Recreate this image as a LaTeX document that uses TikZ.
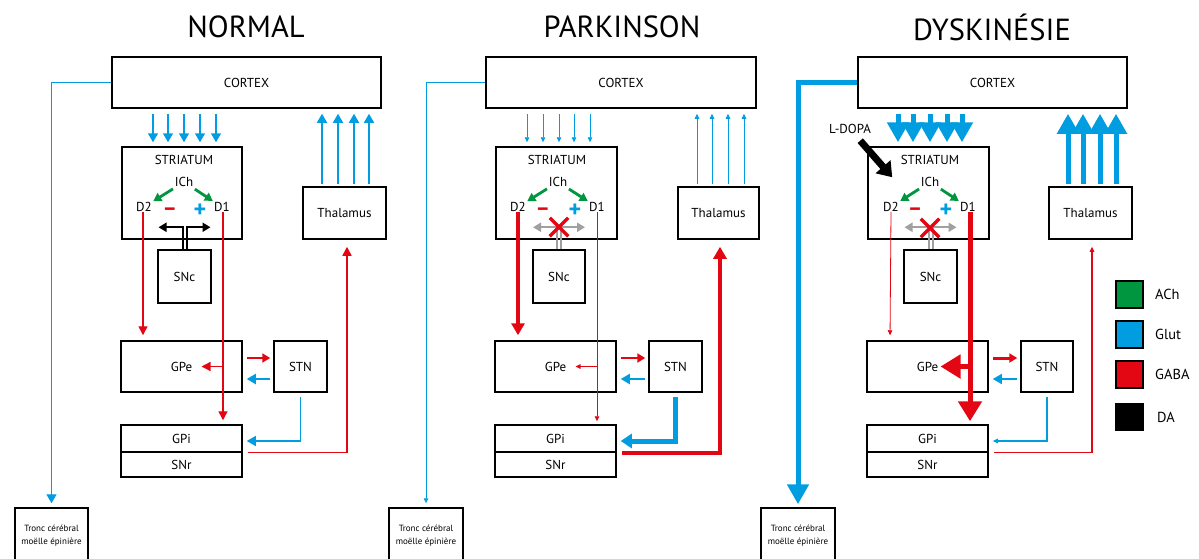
\documentclass[tikz,border=0pt]{standalone}
\usepackage{fontspec}
\setmainfont{PT Sans}
\usetikzlibrary{arrows.meta,shapes.misc}
\definecolor{blu}{RGB}{0,158,224}
\definecolor{rd}{RGB}{227,6,19}
\definecolor{grn}{RGB}{0,150,64}
\definecolor{gry}{RGB}{160,160,160}
\begin{document}
\begin{tikzpicture}[x=1pt,y=-1pt,
  bx/.style={draw=black, line width=1.5pt, inner sep=0pt, font=\fontsize{13}{15}\selectfont},
  lbl/.style={inner sep=0pt, font=\fontsize{13}{15}\selectfont},
  sml/.style={inner sep=0pt, align=center, font=\fontsize{9}{12.5}\selectfont},
  ttl/.style={inner sep=0pt, font=\fontsize{30.5}{32}\selectfont},
  leg/.style={inner sep=0pt, anchor=west, font=\fontsize{14.5}{16}\selectfont},
  legsq/.style={draw=black, line width=1.5pt, minimum size=27pt, inner sep=0pt},
  minus/.style={inner sep=0pt, text=rd, font=\bfseries\fontsize{22}{22}\selectfont},
  plus/.style={inner sep=0pt, text=blu, font=\bfseries\fontsize{24}{24}\selectfont},
  xx/.style={cross out, draw=rd, line width=3.5pt, minimum width=15pt, minimum height=15pt, inner sep=0pt},
  % blue
  glt/.style={blu, line width=0.8pt, -{Triangle[length=5pt,width=4.5pt]}},
  gln/.style={blu, line width=1.6pt, -{Triangle[length=9pt,width=10pt]}},
  glk/.style={blu, line width=5pt, -{Triangle[length=11pt,width=14pt]}},
  glh/.style={blu, line width=5pt, -{Triangle[length=20pt,width=21pt]}},
  % red
  rdt/.style={rd, line width=0.8pt, -{Triangle[length=5pt,width=4.5pt]}},
  rdn/.style={rd, line width=1.4pt, -{Triangle[length=9pt,width=9pt]}},
  rdm/.style={rd, line width=2.2pt, -{Triangle[length=8pt,width=9pt]}},
  rdk/.style={rd, line width=4.5pt, -{Triangle[length=12pt,width=13pt]}},
  rdh/.style={rd, line width=5pt, -{Triangle[length=20pt,width=23pt]}},
  gnar/.style={grn, line width=2.8pt, -{Triangle[length=8pt,width=9pt]}},
  daar/.style={line width=2pt, -{Triangle[length=8pt,width=9pt]}},
  ldopa/.style={black, line width=7pt, -{Triangle[length=14pt,width=19pt]}}
]
\useasboundingbox (0,0) rectangle (1199,558);
\clip (0,0) rectangle (1199,558);

%================ NORMAL =================
\node[ttl] (tN) at (246,27) {NORMAL};
\node[bx, minimum width=269pt, minimum height=51pt] (cortexN) at (246.5,82.5) {CORTEX};
\node[bx, minimum width=120pt, minimum height=92pt] (striN) at (182,193) {};
\node[lbl] (striNt) at (184,160) {STRIATUM};
\node[lbl] (ichN) at (184,182) {ICh};
\node[lbl] (d2N) at (144,207) {D2};
\node[lbl] (d1N) at (222,207) {D1};
\node[minus] (mN) at (170,212) {–};
\node[plus] (pN) at (200,211) {+};
\node[bx, minimum width=83pt, minimum height=52pt] (thalN) at (344.5,213) {Thalamus};
\node[bx, minimum width=53pt, minimum height=53pt] (sncN) at (184.5,276.5) {SNc};
\node[bx, minimum width=121pt, minimum height=51pt] (gpeN) at (181.5,366.5) {GPe};
\node[bx, minimum width=53pt, minimum height=51pt] (stnN) at (300.5,366.5) {STN};
\node[bx, minimum width=121pt, minimum height=27pt] (gpiN) at (181.5,438.5) {GPi};
\node[bx, minimum width=121pt, minimum height=25pt] (snrN) at (181.5,464.5) {SNr};
\node[bx, minimum width=73pt, minimum height=60pt] (troncN) at (51.5,538) {};
\node[sml] (troncNt) at (51.5,535.5) {Tronc cérébral\\moëlle épinière};

\foreach \x in {153,168,184,200,216}
  \draw[gln, shorten <=5pt, shorten >=4pt] (cortexN.south -| \x,0) -- (striN.north -| \x,0);
\foreach \x in {322,338,354,369}
  \draw[gln, shorten <=2pt, shorten >=5pt] (thalN.north -| \x,0) -- (cortexN.south -| \x,0);
\draw[gnar, shorten <=13pt, shorten >=11pt] (ichN.center) -- (d2N.center);
\draw[gnar, shorten <=13pt, shorten >=11pt] (ichN.center) -- (d1N.center);
\draw[daar] ([xshift=-2pt]sncN.north) |- ++(-24,-22);
\draw[daar] ([xshift=2pt]sncN.north) |- ++(24,-22);
\draw[rdn, shorten >=5pt] ([xshift=-1pt]d2N.south) -- (gpeN.north -| 143,0);
\draw[rdn, shorten >=4pt] ([xshift=1pt]d1N.south) -- (gpiN.north -| 223,0);
\draw[rdn] (gpeN.center -| 223,0) -- ([xshift=20pt]gpeN.center);
\draw[rdm, shorten <=4pt, shorten >=3pt] ([yshift=8.5pt]gpeN.east) -- ([yshift=8.5pt]stnN.west);
\draw[gln, line width=2pt, shorten <=3pt, shorten >=4pt] ([yshift=-12.5pt]stnN.west) -- ([yshift=-12.5pt]gpeN.east);
\draw[gln, line width=1.4pt, shorten <=4pt, shorten >=4pt] (stnN.south) |- ([yshift=-2.5pt]gpiN.east);
\draw[rdn, shorten <=5pt, shorten >=7pt] (gpiN.south east) -| ([xshift=2.5pt]thalN.south);
\draw[gln, line width=1.4pt, shorten >=4pt] (cortexN.west) -| (troncN.north);

%================ PARKINSON =================
\node[ttl] (tP) at (622,27) {PARKINSON};
\node[bx, minimum width=270pt, minimum height=51pt] (cortexP) at (621,82.5) {CORTEX};
\node[bx, minimum width=121pt, minimum height=92pt] (striP) at (556.5,193) {};
\node[lbl] (striPt) at (557,160) {STRIATUM};
\node[lbl] (ichP) at (558,182) {ICh};
\node[lbl] (d2P) at (518,207) {D2};
\node[lbl] (d1P) at (597,207) {D1};
\node[minus] (mP) at (543,212) {–};
\node[plus] (pP) at (575,211) {+};
\node[bx, minimum width=81pt, minimum height=52pt] (thalP) at (718.5,213) {Thalamus};
\node[bx, minimum width=52pt, minimum height=53pt] (sncP) at (559,276.5) {SNc};
\node[bx, minimum width=121pt, minimum height=51pt] (gpeP) at (555.5,366.5) {GPe};
\node[bx, minimum width=53pt, minimum height=51pt] (stnP) at (675.5,366.5) {STN};
\node[bx, minimum width=121pt, minimum height=27pt] (gpiP) at (555.5,438.5) {GPi};
\node[bx, minimum width=121pt, minimum height=25pt] (snrP) at (555.5,464.5) {SNr};
\node[bx, minimum width=74pt, minimum height=60pt] (troncP) at (426,538) {};
\node[sml] (troncPt) at (426,535.5) {Tronc cérébral\\moëlle épinière};

\foreach \x in {527,543,559,574,590}
  \draw[glt, shorten <=5pt, shorten >=4pt] (cortexP.south -| \x,0) -- (striP.north -| \x,0);
\foreach \x in {697,712,728,744}
  \draw[glt, shorten <=2pt, shorten >=5pt] (thalP.north -| \x,0) -- (cortexP.south -| \x,0);
\draw[gnar, shorten <=13pt, shorten >=11pt] (ichP.center) -- (d2P.center);
\draw[gnar, shorten <=13pt, shorten >=11pt] (ichP.center) -- (d1P.center);
\draw[daar, gry] ([xshift=-2pt]sncP.north) |- ++(-24,-22);
\draw[daar, gry] ([xshift=2pt]sncP.north) |- ++(24,-22);
\node[xx] (xP) at (559,227) {};
\draw[rdk, shorten >=5pt] (d2P.south) -- (gpeP.north -| 518,0);
\draw[rdt, shorten >=3pt] (d1P.south) -- (gpiP.north -| 597,0);
\draw[rdt] (gpeP.center -| 597,0) -- ([xshift=20pt]gpeP.center);
\draw[rdm, shorten <=4pt, shorten >=3pt] ([yshift=8.5pt]gpeP.east) -- ([yshift=8.5pt]stnP.west);
\draw[gln, line width=2pt, shorten <=3pt, shorten >=4pt] ([yshift=-12.5pt]stnP.west) -- ([yshift=-12.5pt]gpeP.east);
\draw[glk, shorten <=4pt, shorten >=4pt] (stnP.south) |- ([yshift=-2.5pt]gpiP.east);
\draw[rdk, shorten <=5pt, shorten >=7pt] (gpiP.south east) -| ([xshift=1.5pt]thalP.south);
\draw[glt, shorten >=4pt] (cortexP.west) -| (troncP.north);

%================ DYSKINESIE =================
\node[ttl] (tD) at (992,27) {DYSKINÉSIE};
\node[bx, minimum width=269pt, minimum height=51pt] (cortexD) at (992.5,82.5) {CORTEX};
\node[bx, minimum width=121pt, minimum height=92pt] (striD) at (928.5,193) {};
\node[lbl] (striDt) at (930,160) {STRIATUM};
\node[lbl] (ichD) at (930,182) {ICh};
\node[lbl] (d2D) at (891,207) {D2};
\node[lbl] (d1D) at (968,207) {D1};
\node[minus] (mD) at (915,212) {–};
\node[plus] (pD) at (946,211) {+};
\node[lbl] (ldD) at (850,129) {L-DOPA};
\node[bx, minimum width=83pt, minimum height=52pt] (thalD) at (1090.5,213) {Thalamus};
\node[bx, minimum width=53pt, minimum height=53pt] (sncD) at (930.5,276.5) {SNc};
\node[bx, minimum width=121pt, minimum height=51pt] (gpeD) at (927.5,366.5) {GPe};
\node[bx, minimum width=52pt, minimum height=51pt] (stnD) at (1047,366.5) {STN};
\node[bx, minimum width=121pt, minimum height=27pt] (gpiD) at (927.5,438.5) {GPi};
\node[bx, minimum width=121pt, minimum height=25pt] (snrD) at (927.5,464.5) {SNr};
\node[bx, minimum width=74pt, minimum height=60pt] (troncD) at (798,538) {};
\node[sml] (troncDt) at (798,535.5) {Tronc cérébral\\moëlle épinière};

\foreach \x in {898,913,930,947,962}
  \draw[glh, shorten <=5pt, shorten >=4pt] (cortexD.south -| \x,0) -- (striD.north -| \x,0);
\foreach \x in {1068,1083,1100,1116}
  \draw[glh, shorten <=2pt, shorten >=5pt] (thalD.north -| \x,0) -- (cortexD.south -| \x,0);
\draw[ldopa, shorten <=9pt, shorten >=0pt] (ldD) -- ([xshift=25pt,yshift=-31pt]striD.north west);
\draw[gnar, shorten <=13pt, shorten >=11pt] (ichD.center) -- (d2D.center);
\draw[gnar, shorten <=13pt, shorten >=11pt] (ichD.center) -- (d1D.center);
\draw[daar, gry] ([xshift=-2pt]sncD.north) |- ++(-24,-22);
\draw[daar, gry] ([xshift=2pt]sncD.north) |- ++(24,-22);
\node[xx] (xD) at (930,228) {};
\draw[rdt, shorten >=5pt] (d2D.south) -- (gpeD.north -| 890,0);
\draw[rdh, shorten >=3pt] (d1D.south -| 970,0) -- (gpiD.north -| 970,0);
\draw[rdh] (gpeD.center -| 970,0) -- ([xshift=13pt]gpeD.center);
\draw[rdm, line width=3pt, shorten <=4pt, shorten >=3pt] ([yshift=8.5pt]gpeD.east) -- ([yshift=8.5pt]stnD.west);
\draw[gln, line width=1.4pt, shorten <=3pt, shorten >=4pt] ([yshift=-12.5pt]stnD.west) -- ([yshift=-12.5pt]gpeD.east);
\draw[glt, line width=1.2pt, shorten <=4pt, shorten >=4pt] (stnD.south) |- ([yshift=-2.5pt]gpiD.east);
\draw[rdt, line width=1.2pt, shorten <=5pt, shorten >=7pt] (gpiD.south east) -| ([xshift=1.5pt]thalD.south);
\draw[glh, shorten >=3pt] (cortexD.west) -| (troncD.north);

%================ LEGEND =================
\node[legsq, fill=grn] (lgA) at (1129.5,294.5) {};
\node[leg] (lgAt) at (1155,294.5) {ACh};
\node[legsq, fill=blu] (lgG) at (1129.5,334.5) {};
\node[leg] (lgGt) at (1155,334.5) {Glut};
\node[legsq, fill=rd] (lgB) at (1129.5,374.5) {};
\node[leg] (lgBt) at (1155,374.5) {GABA};
\node[legsq, fill=black] (lgD) at (1129.5,417) {};
\node[leg] (lgDt) at (1157,417) {DA};
\end{tikzpicture}
\end{document}
